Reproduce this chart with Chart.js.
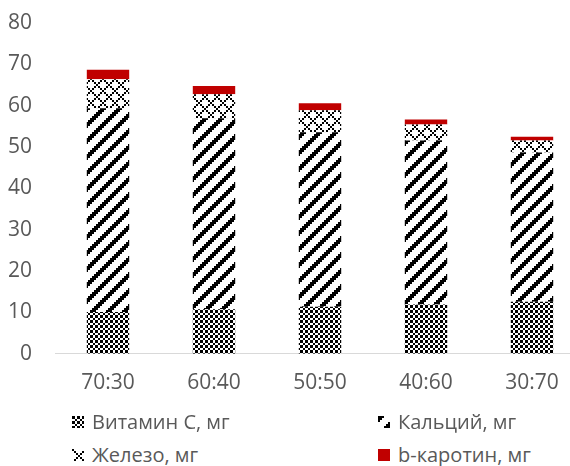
<!DOCTYPE html>
<html lang="ru">
<head>
<meta charset="utf-8">
<script src="https://cdn.jsdelivr.net/npm/chart.js@4"></script>
<style>
  html, body { margin: 0; padding: 0; background: #fff; overflow: hidden; }
  #wrap { position: relative; width: 570px; height: 466px; overflow: hidden; }
  #chart { position: absolute; left: 0; top: 0; }
  .legend { position: absolute; font-family: "Open Sans", sans-serif; font-size: 20px; color: #595959; white-space: nowrap; line-height: 24px; }
  .legend canvas { position: absolute; }
  .legend span { position: absolute; }
</style>
</head>
<body>
<div id="wrap">
  <canvas id="chart" width="590" height="429"></canvas>
  <div class="legend" id="legend"></div>
</div>
<script>
// mix ratios and nutrient content per series (stacked)
const ratios = ['70:30', '60:40', '50:50', '40:60', '30:70'];
const vitaminC = [10.1, 10.8, 11.4, 11.9, 12.6];
const calcium = [49.3, 46.2, 42.2, 39.7, 36.1];
const iron = [7.0, 5.8, 5.3, 3.9, 2.9];
const carotene = [2.3, 2.0, 1.7, 1.2, 0.9];
const yTicks = [0, 10, 20, 30, 40, 50, 60, 70, 80];

const textColor = '#595959';

// build a repeating fill from a per-pixel rule
function makePattern(w, h, isBlack) {
    const c = document.createElement('canvas');
    c.width = w; c.height = h;
    const g = c.getContext('2d');
    g.fillStyle = '#fff';
    g.fillRect(0, 0, w, h);
    g.fillStyle = '#000';
    for (let y = 0; y < h; y++) {
        for (let x = 0; x < w; x++) {
            if (isBlack(x, y)) g.fillRect(x, y, 1, 1);
        }
    }
    return g.createPattern(c, 'repeat');
}

// uneven checker cells
const cells = [3, 2, 3, 2];
function cellIndex(v) {
    let acc = 0;
    for (let i = 0; i < cells.length; i++) {
        acc += cells[i];
        if (v < acc) return i;
    }
    return 0;
}
const checkerFill = makePattern(10, 10, (x, y) => (cellIndex(x) + cellIndex(y)) % 2 === 0);
const stripeFill = makePattern(16, 16, (x, y) => ((x >> 1) + (y >> 1)) % 8 < 3);
const diamondFill = makePattern(12, 12, (x, y) => {
    const a = x >> 1, b = y >> 1;
    return (a + b) % 6 === 0 || ((a - b) % 6 + 6) % 6 === 0;
});
const redFill = '#C00000';

const series = [
    { label: 'Витамин С, мг', data: vitaminC, fill: checkerFill },
    { label: 'Кальций, мг', data: calcium, fill: stripeFill },
    { label: 'Железо, мг', data: iron, fill: diamondFill },
    { label: 'b-каротин, мг', data: carotene, fill: redFill }
];

new Chart(document.getElementById('chart'), {
    type: 'bar',
    data: {
        labels: ratios,
        datasets: series.map(s => ({
            label: s.label,
            data: s.data,
            backgroundColor: s.fill,
            borderWidth: 0,
            barPercentage: 0.4,
            categoryPercentage: 1.0
        }))
    },
    options: {
        responsive: false,
        animation: false,
        layout: { padding: { top: 0, right: 5, bottom: 16, left: 0 } },
        plugins: { legend: { display: false }, tooltip: { enabled: false } },
        scales: {
            x: {
                stacked: true,
                grid: { display: false, drawTicks: false },
                border: { display: true, color: '#d9d9d9', width: 1 },
                ticks: { color: textColor, font: { family: 'Open Sans', size: 21 }, padding: 17 }
            },
            y: {
                stacked: true,
                min: 0,
                max: 80,
                afterBuildTicks: axis => { axis.ticks = yTicks.map(v => ({ value: v })); },
                afterFit: axis => { axis.width = 55; },
                grid: { display: false, drawTicks: false },
                border: { display: false },
                // tiny line height keeps the label box from padding the plot top
                ticks: { color: textColor, font: { family: 'Open Sans', size: 21, lineHeight: 0.01 }, padding: 23 }
            }
        }
    }
});

// two-column legend under the plot
const legendPos = [
    { x: 72, y: 410 }, { x: 378, y: 410 },
    { x: 72, y: 443 }, { x: 378, y: 443 }
];
const legend = document.getElementById('legend');
legend.style.left = '0px';
legend.style.top = '0px';
series.forEach((s, i) => {
    const p = legendPos[i];
    const sw = document.createElement('canvas');
    sw.width = 12; sw.height = 12;
    sw.style.left = p.x + 'px';
    sw.style.top = (p.y + 6) + 'px';
    const g = sw.getContext('2d');
    g.fillStyle = s.fill;
    g.fillRect(0, 0, 12, 12);
    legend.appendChild(sw);
    const t = document.createElement('span');
    t.textContent = s.label;
    t.style.left = (p.x + 20) + 'px';
    t.style.top = p.y + 'px';
    legend.appendChild(t);
});
</script>
</body>
</html>
